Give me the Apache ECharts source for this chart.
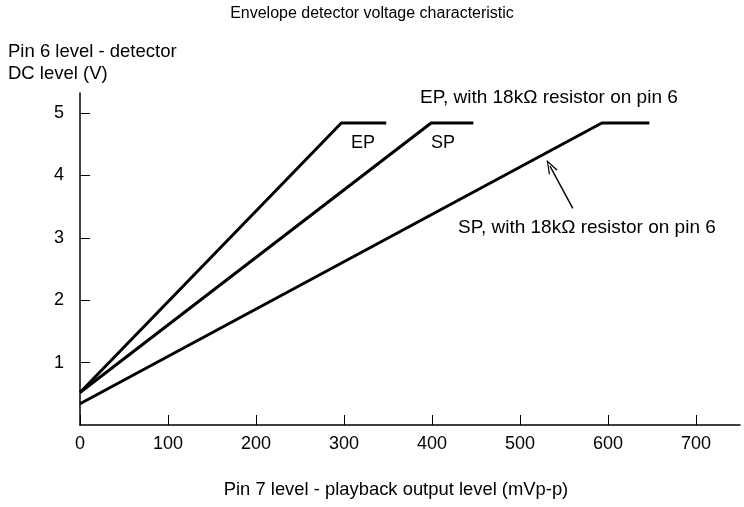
<!DOCTYPE html>
<html>
<head>
<meta charset="utf-8">
<script src="https://cdn.jsdelivr.net/npm/echarts@6/dist/echarts.min.js"></script>
<style>html,body{margin:0;padding:0;background:#fff;}#c{width:744px;height:507px;}</style>
</head>
<body>
<div id="c"></div>
<script>
// Data (mVp-p, V)
const epX = [0, 297, 348];
const epY = [0.52, 4.84, 4.84];
const spX = [0, 399, 447];
const spY = [0.52, 4.84, 4.84];
const sp18X = [0, 593, 647];
const sp18Y = [0.34, 4.84, 4.84];
const xTicks = [0, 100, 200, 300, 400, 500, 600, 700];
const yTicks = [1, 2, 3, 4, 5];

const zip = (xs, ys) => xs.map((x, i) => [x, ys[i]]);
const FONT = "'Liberation Sans', Arial, sans-serif";
const NARROW = "'Liberation Sans Narrow', 'Liberation Sans', Arial, sans-serif";
const chevron = 'path://M5,0 L10,12 L8.6,12 L5,2.8 L1.4,12 L0,12 Z';

const chart = echarts.init(document.getElementById('c'), null, {renderer: 'canvas'});
const lineSeries = (name, data, extra) => Object.assign({
  name, type: 'line', data, symbol: 'none', animation: false, silent: true,
  lineStyle: {color: '#000', width: 3}
}, extra || {});

chart.setOption({
  backgroundColor: '#fff',
  animation: false,
  grid: {left: 80, right: 4, top: 93, bottom: 82},
  xAxis: {
    type: 'value', min: 0, max: 750, interval: 100,
    axisLine: {show: true, lineStyle: {color: '#000', width: 1.5}},
    axisTick: {show: true, inside: true, length: 10, customValues: xTicks, lineStyle: {color: '#000', width: 1}},
    splitLine: {show: false},
    axisLabel: {color: '#000', fontFamily: NARROW, fontSize: 18, margin: 10, customValues: xTicks,
      formatter: v => String(v)}
  },
  yAxis: {
    type: 'value', min: 0, max: 5.32, interval: 1,
    axisLine: {show: true, lineStyle: {color: '#000', width: 1.5}},
    axisTick: {show: true, inside: true, length: 10, customValues: yTicks, lineStyle: {color: '#000', width: 1}},
    splitLine: {show: false},
    axisLabel: {color: '#000', fontFamily: NARROW, fontSize: 18, margin: 16, customValues: yTicks,
      formatter: v => String(v)}
  },
  series: [
    lineSeries('EP', zip(epX, epY)),
    lineSeries('SP', zip(spX, spY)),
    lineSeries('SP 18k', zip(sp18X, sp18Y), {
      markLine: {
        silent: true, animation: false,
        symbol: ['none', chevron], symbolSize: [10, 14],
        lineStyle: {color: '#000', width: 1.5, type: 'solid'},
        label: {show: false},
        data: [[{coord: [560, 3.47]}, {coord: [534, 4.15]}]]
      }
    })
  ],
  graphic: [
    {type: 'text', left: 'center', top: 6, style: {text: 'Envelope detector voltage characteristic', font: '16px ' + FONT, fill: '#000'}},
    {type: 'text', left: 8, top: 42, style: {text: 'Pin 6 level - detector', font: '18.5px ' + FONT, fill: '#000'}},
    {type: 'text', left: 8, top: 64, style: {text: 'DC level (V)', font: '18.5px ' + FONT, fill: '#000'}},
    {type: 'text', x: 396, y: 490, style: {text: 'Pin 7 level - playback output level (mVp-p)', font: '18.4px ' + FONT, fill: '#000', textAlign: 'center', textVerticalAlign: 'middle'}},
    {type: 'text', x: 420, y: 98, style: {text: 'EP, with 18k\u03A9 resistor on pin 6', font: '19px ' + FONT, fill: '#000', textVerticalAlign: 'middle'}},
    {type: 'text', x: 458, y: 228, style: {text: 'SP, with 18k\u03A9 resistor on pin 6', font: '19px ' + FONT, fill: '#000', textVerticalAlign: 'middle'}},
    {type: 'text', x: 363, y: 143, style: {text: 'EP', font: '18px ' + NARROW, fill: '#000', textAlign: 'center', textVerticalAlign: 'middle'}},
    {type: 'text', x: 443, y: 143, style: {text: 'SP', font: '18px ' + NARROW, fill: '#000', textAlign: 'center', textVerticalAlign: 'middle'}}
  ]
});
</script>
</body>
</html>
